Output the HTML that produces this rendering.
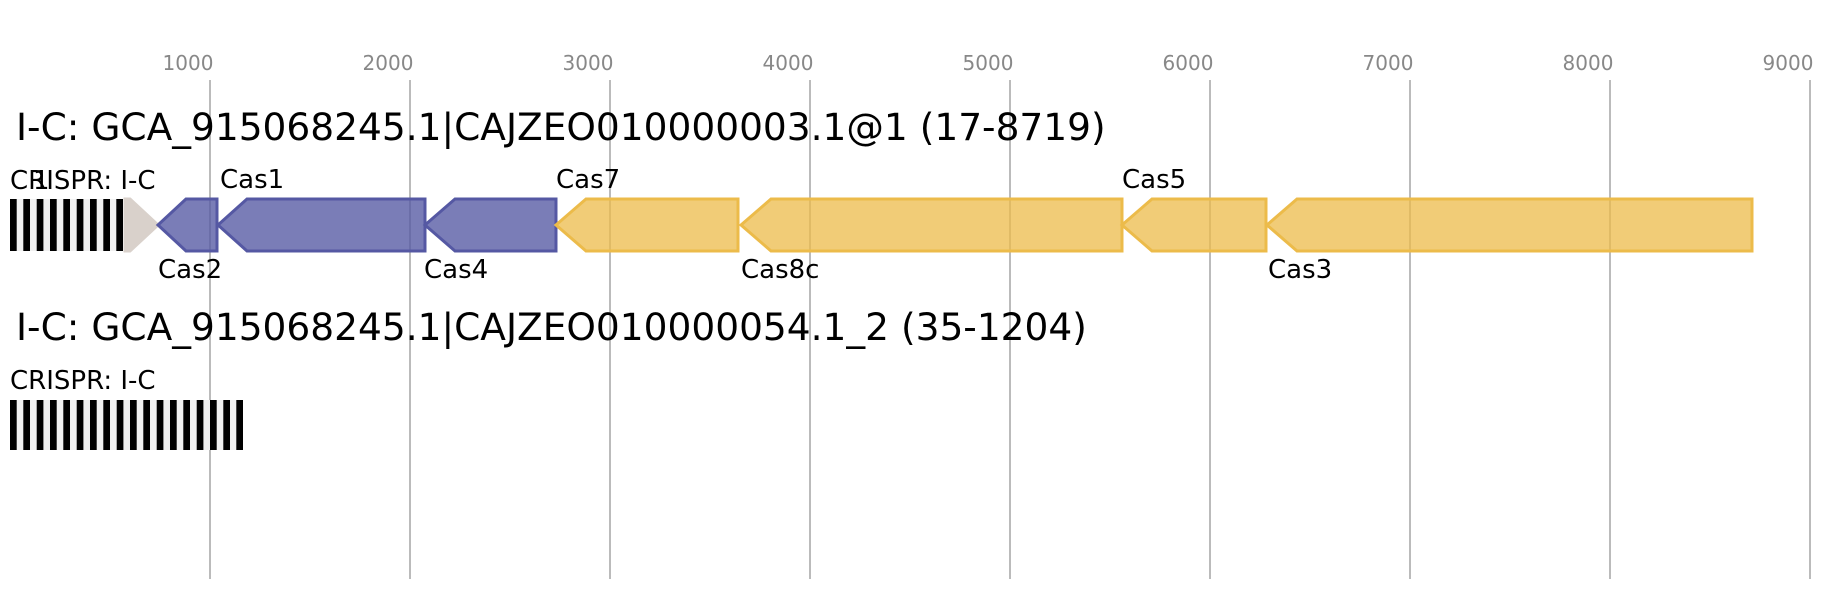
<!DOCTYPE html>
<html><head><meta charset="utf-8"><style>body{margin:0;background:#fff}svg{display:block}</style></head><body>
<svg width="1840" height="600" xmlns="http://www.w3.org/2000/svg" font-family="'DejaVu Sans','Liberation Sans',sans-serif">
<rect width="1840" height="600" fill="#fff"/>
<g stroke="#bbb" stroke-width="2">
<line x1="210" y1="80" x2="210" y2="579"/><line x1="410" y1="80" x2="410" y2="579"/><line x1="610" y1="80" x2="610" y2="579"/><line x1="810" y1="80" x2="810" y2="579"/><line x1="1010" y1="80" x2="1010" y2="579"/><line x1="1210" y1="80" x2="1210" y2="579"/><line x1="1410" y1="80" x2="1410" y2="579"/><line x1="1610" y1="80" x2="1610" y2="579"/><line x1="1810" y1="80" x2="1810" y2="579"/>
</g>
<g fill="#888" font-size="20" text-anchor="middle">
<text x="188" y="70">1000</text><text x="388" y="70">2000</text><text x="588" y="70">3000</text><text x="788" y="70">4000</text><text x="988" y="70">5000</text><text x="1188" y="70">6000</text><text x="1388" y="70">7000</text><text x="1588" y="70">8000</text><text x="1788" y="70">9000</text>
</g>
<text x="16" y="140" font-size="37.5" fill="#000">I-C: GCA_915068245.1|CAJZEO010000003.1@1 (17-8719)</text>
<text x="16" y="340" font-size="37.5" fill="#000">I-C: GCA_915068245.1|CAJZEO010000054.1_2 (35-1204)</text>
<g font-size="26" fill="#000">
<text x="10" y="189">CRISPR: I-C</text><text x="33" y="189">1</text>
<text x="220" y="188">Cas1</text><text x="556" y="188">Cas7</text><text x="1122" y="188">Cas5</text>
<text x="158" y="278">Cas2</text><text x="424" y="278">Cas4</text><text x="741" y="278">Cas8c</text><text x="1268" y="278">Cas3</text>
<text x="10" y="389">CRISPR: I-C</text>
</g>
<rect x="10" y="199" width="113" height="52" fill="#f0f0f0"/>
<g fill="#000">
<rect x="10" y="199" width="6.7" height="52"/><rect x="23.3" y="199" width="6.7" height="52"/><rect x="36.7" y="199" width="6.7" height="52"/><rect x="50" y="199" width="6.7" height="52"/><rect x="63.3" y="199" width="6.7" height="52"/><rect x="76.7" y="199" width="6.7" height="52"/><rect x="90" y="199" width="6.7" height="52"/><rect x="103.3" y="199" width="6.7" height="52"/><rect x="116.3" y="199" width="6.7" height="52"/>
</g>
<rect x="10" y="400" width="233" height="50" fill="#f0f0f0"/>
<g fill="#000">
<rect x="10" y="400" width="6.7" height="50"/><rect x="23.3" y="400" width="6.7" height="50"/><rect x="36.7" y="400" width="6.7" height="50"/><rect x="50" y="400" width="6.7" height="50"/><rect x="63.3" y="400" width="6.7" height="50"/><rect x="76.7" y="400" width="6.7" height="50"/><rect x="90" y="400" width="6.7" height="50"/><rect x="103.3" y="400" width="6.7" height="50"/><rect x="116.7" y="400" width="6.7" height="50"/><rect x="130" y="400" width="6.7" height="50"/><rect x="143.3" y="400" width="6.7" height="50"/><rect x="156.7" y="400" width="6.7" height="50"/><rect x="170" y="400" width="6.7" height="50"/><rect x="183.3" y="400" width="6.7" height="50"/><rect x="196.7" y="400" width="6.7" height="50"/><rect x="210" y="400" width="6.7" height="50"/><rect x="223.3" y="400" width="6.7" height="50"/><rect x="236.3" y="400" width="6.7" height="50"/>
</g>
<polygon points="125,199 130,199 158,225 130,251 125,251" fill="#d9d1cb" stroke="#d9d1cb" stroke-width="3"/>
<g fill="#5558a3" fill-opacity="0.78" stroke="#5558a3" stroke-width="3">
<polygon points="158,225 186,199 217,199 217,251 186,251"/>
<polygon points="218,225 247,199 425,199 425,251 247,251"/>
<polygon points="425,225 455,199 556,199 556,251 455,251"/>
</g>
<g fill="#ecbb4a" fill-opacity="0.75" stroke="#ecbb4a" stroke-width="3">
<polygon points="556,225 586,199 738,199 738,251 586,251"/>
<polygon points="741,225 771,199 1122,199 1122,251 771,251"/>
<polygon points="1122,225 1152,199 1266,199 1266,251 1152,251"/>
<polygon points="1267,225 1297,199 1752,199 1752,251 1297,251"/>
</g>
</svg>
</body></html>
